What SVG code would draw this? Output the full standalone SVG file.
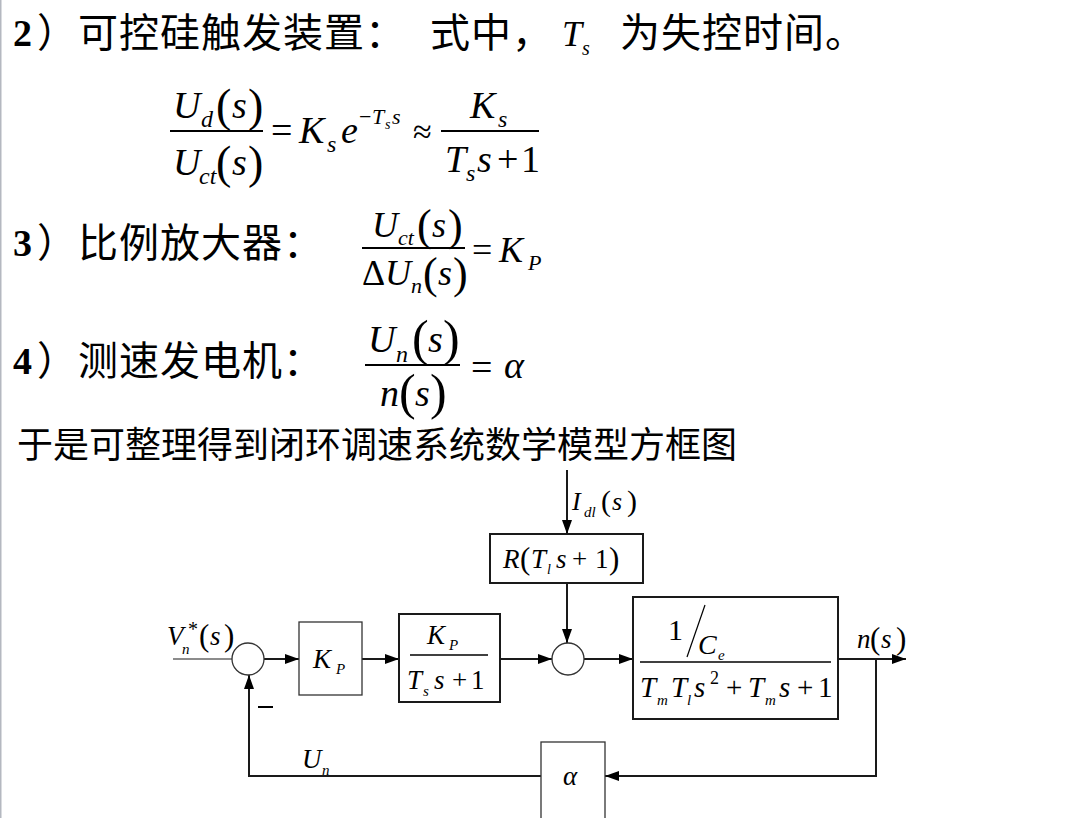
<svg xmlns="http://www.w3.org/2000/svg" width="1089" height="818" viewBox="0 0 1089 818">
<style>
.cjk{font-family:"Liberation Serif","Noto Sans CJK SC",serif;fill:#000}
.hd{font-size:40px;letter-spacing:1px}
.num{font-family:"Liberation Serif",serif;font-weight:bold;fill:#000}
.m{font-family:"Liberation Serif",serif;font-style:italic;fill:#000}
.r{font-family:"Liberation Serif",serif;fill:#000}
.ln{stroke:#1a1a1a;stroke-width:2;fill:none}
.thin{stroke:#1a1a1a;stroke-width:1.2;fill:none}
.blk{fill:#fff;stroke:#1a1a1a;stroke-width:2}
.blk1{fill:#fff;stroke:#333;stroke-width:1.3}
.sum{fill:#fff;stroke:#333;stroke-width:1.3}
</style>
<defs>
<marker id="ah" viewBox="0 0 14 10" refX="14" refY="5" markerWidth="14" markerHeight="10" markerUnits="userSpaceOnUse" orient="auto">
<path d="M0,0 L14,5 L0,10 Z" fill="#000"/>
</marker>
</defs>
<rect x="0" y="0" width="1089" height="818" fill="#fff"/>
<line x1="0.75" y1="0" x2="0.75" y2="818" stroke="#b4b8c0" stroke-width="1.5"/>

<g id="text-header">
<text class="num" x="13" y="46" font-size="38">2</text>
<text class="cjk hd" x="37" y="47">）可控硅触发装置：</text>
<text class="cjk hd" x="430" y="47">式中，</text>
<text class="m" x="562" y="46" font-size="36">T</text>
<text class="m" x="582" y="55" font-size="20">s</text>
<text class="cjk hd" x="620" y="47">为失控时间。</text>
</g>

<g id="formula-scr">
<line x1="170" y1="131" x2="263" y2="131" stroke="#000" stroke-width="2"/>
<text class="m" x="173" y="118" font-size="38">U</text>
<text class="m" x="201" y="127" font-size="24">d</text>
<text class="r" x="216" y="121" font-size="46">(</text>
<text class="m" x="232" y="118" font-size="38">s</text>
<text class="r" x="248" y="121" font-size="46">)</text>
<text class="m" x="173" y="175" font-size="38">U</text>
<text class="m" x="199" y="184" font-size="24">ct</text>
<text class="r" x="216" y="178" font-size="46">(</text>
<text class="m" x="232" y="175" font-size="38">s</text>
<text class="r" x="248" y="178" font-size="46">)</text>
<text class="r" x="271" y="143" font-size="38">=</text>
<text class="m" x="299" y="143" font-size="38">K</text>
<text class="m" x="327" y="152" font-size="24">s</text>
<text class="m" x="341" y="143" font-size="38">e</text>
<text class="r" x="359" y="124" font-size="22">−</text>
<text class="m" x="372" y="124" font-size="22">T</text>
<text class="m" x="385" y="129" font-size="14">s</text>
<text class="m" x="392" y="124" font-size="22">s</text>
<text class="r" x="413" y="143" font-size="34">≈</text>
<line x1="441" y1="131" x2="539" y2="131" stroke="#000" stroke-width="2"/>
<text class="m" x="470" y="118" font-size="38">K</text>
<text class="m" x="498" y="127" font-size="24">s</text>
<text class="m" x="445" y="172" font-size="38">T</text>
<text class="m" x="466" y="181" font-size="24">s</text>
<text class="m" x="477" y="172" font-size="38">s</text>
<text class="r" x="497" y="172" font-size="38">+</text>
<text class="r" x="521" y="172" font-size="38">1</text>
</g>

<g id="text-amp">
<text class="num" x="13" y="256" font-size="38">3</text>
<text class="cjk hd" x="37" y="257">）比例放大器：</text>
</g>
<g id="formula-amp">
<line x1="362" y1="248" x2="465" y2="248" stroke="#000" stroke-width="2"/>
<text class="m" x="372" y="237" font-size="36">U</text>
<text class="m" x="398" y="245" font-size="22">ct</text>
<text class="r" x="417" y="240" font-size="44">(</text>
<text class="m" x="432" y="237" font-size="36">s</text>
<text class="r" x="448" y="240" font-size="44">)</text>
<text class="r" x="362" y="285" font-size="36">Δ</text>
<text class="m" x="385" y="285" font-size="36">U</text>
<text class="m" x="411" y="293" font-size="22">n</text>
<text class="r" x="423" y="288" font-size="44">(</text>
<text class="m" x="438" y="285" font-size="36">s</text>
<text class="r" x="453" y="288" font-size="44">)</text>
<text class="r" x="472" y="262" font-size="36">=</text>
<text class="m" x="499" y="262" font-size="36">K</text>
<text class="m" x="528" y="270" font-size="22">P</text>
</g>

<g id="text-tach">
<text class="num" x="13" y="374" font-size="38">4</text>
<text class="cjk hd" x="37" y="375">）测速发电机：</text>
</g>
<g id="formula-tach">
<line x1="365" y1="365" x2="460" y2="365" stroke="#000" stroke-width="2"/>
<text class="m" x="368" y="352" font-size="38">U</text>
<text class="m" x="396" y="362" font-size="24">n</text>
<text class="r" x="412" y="355" font-size="50">(</text>
<text class="m" x="428" y="352" font-size="38">s</text>
<text class="r" x="443" y="355" font-size="50">)</text>
<text class="m" x="380" y="406" font-size="38">n</text>
<text class="r" x="399" y="409" font-size="50">(</text>
<text class="m" x="415" y="406" font-size="38">s</text>
<text class="r" x="430" y="409" font-size="50">)</text>
<text class="r" x="471" y="380" font-size="38">=</text>
<text class="m" x="504" y="378" font-size="38">α</text>
</g>

<g id="text-intro">
<text class="cjk" x="17" y="458" font-size="36">于是可整理得到闭环调速系统数学模型方框图</text>
</g>

<g id="connectors">
<line class="ln" x1="567" y1="470" x2="567" y2="534" marker-end="url(#ah)"/>
<line class="ln" x1="567" y1="583" x2="567" y2="643" marker-end="url(#ah)"/>
<line class="thin" x1="173" y1="659" x2="232" y2="659"/>
<line class="ln" x1="264" y1="659" x2="299" y2="659" marker-end="url(#ah)"/>
<line class="ln" x1="362" y1="659" x2="399" y2="659" marker-end="url(#ah)"/>
<line class="ln" x1="500" y1="659" x2="552" y2="659" marker-end="url(#ah)"/>
<line class="ln" x1="584" y1="659" x2="633" y2="659" marker-end="url(#ah)"/>
<line class="ln" x1="838" y1="659" x2="906" y2="659" marker-end="url(#ah)"/>
<polyline class="ln" points="876,659 876,776 605,776" marker-end="url(#ah)"/>
<polyline class="ln" points="541,776 249,776 249,675" marker-end="url(#ah)"/>
<line x1="258" y1="707" x2="273" y2="707" stroke="#000" stroke-width="2"/>
</g>

<g id="label-idl">
<text class="m" x="572" y="510" font-size="26">I</text>
<text class="m" x="584" y="517" font-size="15">dl</text>
<text class="r" x="601" y="511" font-size="30">(</text>
<text class="m" x="612" y="510" font-size="26">s</text>
<text class="r" x="627" y="511" font-size="30">)</text>
</g>

<g id="node-R">
<rect class="blk" x="490" y="534" width="153" height="49"/>
<text class="m" x="503" y="568" font-size="27">R</text>
<text class="r" x="520" y="569" font-size="31">(</text>
<text class="m" x="531" y="568" font-size="27">T</text>
<text class="m" x="547" y="574" font-size="14">l</text>
<text class="m" x="556" y="568" font-size="27">s</text>
<text class="r" x="572" y="568" font-size="27">+</text>
<text class="r" x="595" y="568" font-size="27">1</text>
<text class="r" x="609" y="569" font-size="31">)</text>
</g>

<g id="label-vn">
<text class="m" x="167" y="645" font-size="27">V</text>
<text class="m" x="182" y="654" font-size="15">n</text>
<text class="r" x="188" y="636" font-size="20">*</text>
<text class="r" x="199" y="646" font-size="31">(</text>
<text class="m" x="210" y="645" font-size="27">s</text>
<text class="r" x="224" y="646" font-size="31">)</text>
</g>

<g id="sum1">
<circle class="sum" cx="248" cy="659" r="16"/>
</g>

<g id="node-KP">
<rect class="blk1" x="299" y="622" width="63" height="73"/>
<text class="m" x="313" y="668" font-size="27">K</text>
<text class="m" x="336" y="674" font-size="15">P</text>
</g>

<g id="node-scr">
<rect class="blk" x="399" y="614" width="101" height="88"/>
<text class="m" x="427" y="644" font-size="27">K</text>
<text class="m" x="449" y="650" font-size="15">P</text>
<line x1="410" y1="655" x2="488" y2="655" stroke="#000" stroke-width="1.3"/>
<text class="m" x="407" y="689" font-size="27">T</text>
<text class="m" x="423" y="696" font-size="15">s</text>
<text class="m" x="434" y="689" font-size="27">s</text>
<text class="r" x="452" y="689" font-size="27">+</text>
<text class="r" x="471" y="689" font-size="27">1</text>
</g>

<g id="sum2">
<circle class="sum" cx="568" cy="659" r="16"/>
</g>

<g id="node-motor">
<rect class="blk" x="633" y="597" width="205" height="122"/>
<text class="r" x="668" y="640" font-size="30">1</text>
<line x1="687" y1="657" x2="705" y2="605" stroke="#000" stroke-width="1.2"/>
<text class="m" x="698" y="654" font-size="28">C</text>
<text class="m" x="718" y="660" font-size="15">e</text>
<line x1="640" y1="662" x2="831" y2="662" stroke="#000" stroke-width="1.3"/>
<text class="m" x="640" y="697" font-size="29">T</text>
<text class="m" x="657" y="705" font-size="15">m</text>
<text class="m" x="671" y="697" font-size="29">T</text>
<text class="m" x="687" y="705" font-size="15">l</text>
<text class="m" x="694" y="697" font-size="29">s</text>
<text class="r" x="710" y="684" font-size="18">2</text>
<text class="r" x="726" y="697" font-size="29">+</text>
<text class="m" x="748" y="697" font-size="29">T</text>
<text class="m" x="765" y="705" font-size="15">m</text>
<text class="m" x="779" y="697" font-size="29">s</text>
<text class="r" x="797" y="697" font-size="29">+</text>
<text class="r" x="818" y="697" font-size="29">1</text>
</g>

<g id="label-ns">
<text class="m" x="857" y="648" font-size="27">n</text>
<text class="r" x="870" y="649" font-size="31">(</text>
<text class="m" x="881" y="648" font-size="27">s</text>
<text class="r" x="896" y="649" font-size="31">)</text>
</g>

<g id="node-alpha">
<rect class="blk1" x="541" y="742" width="64" height="78"/>
<text class="m" x="563" y="785" font-size="27">α</text>
</g>

<g id="label-un">
<text class="m" x="302" y="768" font-size="27">U</text>
<text class="m" x="322" y="775" font-size="15">n</text>
</g>
</svg>
